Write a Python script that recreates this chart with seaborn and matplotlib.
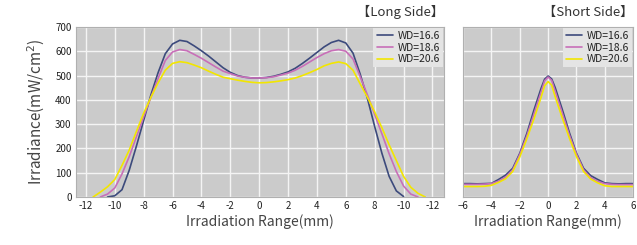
import numpy as np
import pandas as pd
import matplotlib.pyplot as plt
import seaborn as sns

# --------------------------------
# Data
# --------------------------------
long_x = [-12.0, -11.5, -11.0, -10.5, -10.0, -9.5, -9.0, -8.5, -8.0, -7.5, -7.0, -6.5,
          -6.0, -5.5, -5.0, -4.5, -4.0, -3.5, -3.0, -2.5, -2.0, -1.5, -1.0, -0.5,
          0.0, 0.5, 1.0, 1.5, 2.0, 2.5, 3.0, 3.5, 4.0, 4.5, 5.0, 5.5, 6.0, 6.5,
          7.0, 7.5, 8.0, 8.5, 9.0, 9.5, 10.0, 10.5, 11.0, 11.5, 12.0]

long_wd166 = [np.nan, np.nan, np.nan, 0, 5, 30, 110, 210, 315, 420, 512, 590,
              630, 645, 640, 622, 602, 580, 556, 532, 513, 500, 493, 490,
              490, 492, 497, 505, 515, 530, 550, 572, 595, 618, 636, 645, 634, 592,
              505, 405, 290, 180, 85, 25, 2, np.nan, np.nan, np.nan, np.nan]

long_wd186 = [np.nan, np.nan, 0, 12, 37, 95, 166, 248, 330, 410, 488, 562,
              597, 607, 602, 587, 571, 553, 535, 518, 508, 498, 493, 490,
              490, 491, 495, 502, 510, 522, 538, 556, 574, 590, 602, 607, 600, 568,
              495, 420, 340, 260, 178, 105, 45, 12, 0, np.nan, np.nan]

long_wd206 = [np.nan, 0, 20, 42, 72, 130, 193, 270, 345, 410, 470, 522,
              550, 557, 553, 543, 532, 518, 505, 493, 487, 481, 476, 472,
              470, 471, 474, 478, 483, 490, 500, 512, 525, 540, 550, 556, 549, 522,
              465, 410, 350, 285, 215, 150, 85, 40, 15, 0, np.nan]

short_x = [-6.0, -5.5, -5.0, -4.5, -4.0, -3.5, -3.0, -2.5, -2.0, -1.5, -1.0, -0.5,
           -0.25, 0.0, 0.25, 0.5, 1.0, 1.5, 2.0, 2.5, 3.0, 3.5, 4.0, 4.5, 5.0, 5.5, 6.0]

short_wd166 = [55, 55, 54, 55, 56, 72, 90, 118, 180, 262, 358, 447,
               485, 498, 486, 450, 360, 265, 180, 118, 88, 72, 58, 55, 54, 55, 55]

short_wd186 = [52, 52, 52, 53, 55, 65, 82, 112, 175, 252, 342, 432,
               478, 494, 480, 435, 345, 255, 176, 112, 80, 64, 55, 52, 51, 51, 51]

short_wd206 = [43, 43, 43, 44, 48, 60, 75, 105, 165, 240, 322, 410,
               458, 475, 460, 412, 325, 242, 166, 105, 74, 58, 46, 43, 43, 43, 43]

series_names = ["WD=16.6", "WD=18.6", "WD=20.6"]
series_colors = ["#3c4a7c", "#c86fb8", "#f2e600"]

long_ticks = [-12, -10, -8, -6, -4, -2, 0, 2, 4, 6, 8, 10, 12]
long_ticklabels = ["-12", "-10", "-8", "-6", "-4", "-2", "0", "2", "4", "6", "8", "-10", "-12"]
short_ticks = [-6, -4, -2, 0, 2, 4, 6]
y_ticks = [0, 100, 200, 300, 400, 500, 600, 700]

# --------------------------------
# Tidy tables
# --------------------------------
long_df = pd.DataFrame({
    "x": long_x * 3,
    "y": long_wd166 + long_wd186 + long_wd206,
    "WD": sum([[n] * len(long_x) for n in series_names], []),
}).dropna()

short_df = pd.DataFrame({
    "x": short_x * 3,
    "y": short_wd166 + short_wd186 + short_wd206,
    "WD": sum([[n] * len(short_x) for n in series_names], []),
})

# --------------------------------
# Style
# --------------------------------
sns.set_style("whitegrid", {
    "axes.facecolor": "#cbcbcb",
    "grid.color": "#f4f4f4",
    "axes.edgecolor": "#b0b0b0",
})
plt.rcParams["font.family"] = ["Noto Sans CJK JP", "DejaVu Sans"]

fig = plt.figure(figsize=(6.37, 2.45), dpi=100)
ax1 = fig.add_axes([0.119, 0.196, 0.578, 0.694])
ax2 = fig.add_axes([0.727, 0.196, 0.267, 0.694])

palette = dict(zip(series_names, series_colors))

for ax, df in [(ax1, long_df), (ax2, short_df)]:
    sns.lineplot(data=df, x="x", y="y", hue="WD", palette=palette,
                 linewidth=1.2, ax=ax)
    ax.set_ylim(0, 700)
    ax.set_yticks(y_ticks)
    ax.grid(True, linewidth=1.0)
    for s in ax.spines.values():
        s.set_linewidth(0.8)
    ax.tick_params(axis="both", length=0, labelsize=7, colors="#222222", pad=3)
    ax.set_xlabel("Irradiation Range(mm)", fontsize=10, color="#444444", labelpad=2)
    ax.set_ylabel("")
    leg = ax.legend(loc="upper right", fontsize=7.5, frameon=True,
                    facecolor="#e4e4e4", edgecolor="none", framealpha=1,
                    handlelength=1.6, handletextpad=0.4, borderpad=0.3,
                    labelspacing=0.15, fancybox=False, borderaxespad=0.1)
    for t in leg.get_texts():
        t.set_color("#222222")

ax1.set_xlim(-12.7, 12.8)
ax1.set_xticks(long_ticks)
ax1.set_xticklabels(long_ticklabels)
ax1.set_ylabel("Irradiance(mW/cm$^2$)", fontsize=11, color="#444444", labelpad=6)

ax2.set_xlim(-6, 6)
ax2.set_xticks(short_ticks)
ax2.set_yticklabels([])

fig.text(0.697, 0.95, "【Long Side】", ha="right", va="center", fontsize=9.5, color="#333333")
fig.text(0.994, 0.95, "【Short Side】", ha="right", va="center", fontsize=9.5, color="#333333")

plt.savefig("out.png", dpi=100)
